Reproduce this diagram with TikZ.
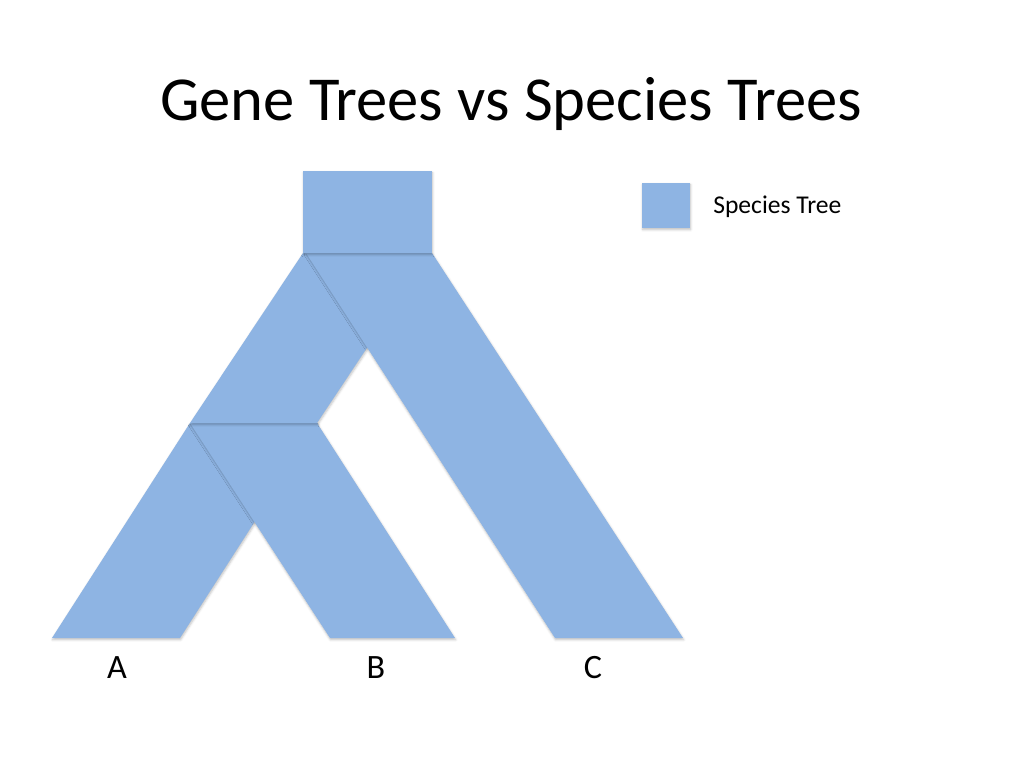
\documentclass[tikz,border=0pt]{standalone}
\usepackage{fontspec}
\setmainfont{Carlito}
\usetikzlibrary{shadows.blur}

\definecolor{speciesblue}{HTML}{8EB4E3}

\tikzset{
  branch/.style={fill=speciesblue,
    blur shadow={shadow xshift=0.4pt, shadow yshift=-1.2pt,
      shadow blur radius=1.6pt, shadow opacity=25}},
  tip/.style={font=\fontsize{24bp}{28bp}\selectfont, anchor=base}
}

\begin{document}
\begin{tikzpicture}[x=0.0248047cm,y=-0.0248047cm]
  \useasboundingbox (0,0) rectangle (1024,768);

  \coordinate (R0) at (303,171);
  \coordinate (R1) at (432,253);

  \coordinate (L0) at (303,253);
  \coordinate (L1) at (430,253);
  \coordinate (L2) at (317,423);
  \coordinate (L3) at (190,423);

  \coordinate (C0) at (306,253);
  \coordinate (C1) at (432,253);
  \coordinate (C2) at (683,638);
  \coordinate (C3) at (555,638);

  \coordinate (A0) at (190,423);
  \coordinate (A1) at (318,423);
  \coordinate (A2) at (180,638);
  \coordinate (A3) at (52,638);

  \coordinate (B0) at (190,423);
  \coordinate (B1) at (317,423);
  \coordinate (B2) at (455,638);
  \coordinate (B3) at (330,638);

  \fill[branch] (A0) -- (A1) -- (A2) -- (A3) -- cycle;
  \fill[branch] (B0) -- (B1) -- (B2) -- (B3) -- cycle;
  \fill[branch] (L0) -- (L1) -- (L2) -- (L3) -- cycle;
  \fill[branch] (C0) -- (C1) -- (C2) -- (C3) -- cycle;
  \fill[branch] (R0) rectangle (R1);

  % legend
  \fill[branch] (642,183) rectangle (690,228);
  \node[anchor=base west, inner sep=0pt, font=\fontsize{18bp}{22bp}\selectfont]
    (key) at (713,213) {Species Tree};

  \node[anchor=base, inner sep=0pt, font=\fontsize{44bp}{52bp}\selectfont]
    (title) at (511,120) {Gene Trees vs Species Trees};

  \node[tip, inner sep=0pt] (tipA) at (117,678) {A};
  \node[tip, inner sep=0pt] (tipB) at (376,678) {B};
  \node[tip, inner sep=0pt] (tipC) at (593,678) {C};
\end{tikzpicture}
\end{document}
